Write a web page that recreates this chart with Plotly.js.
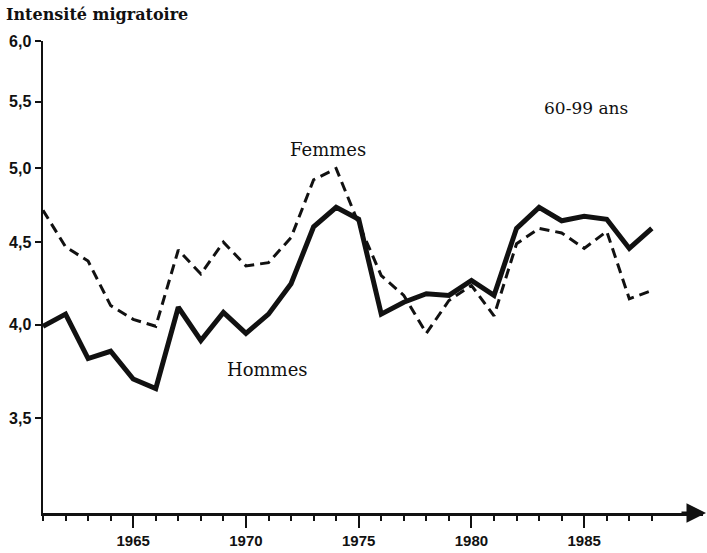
<!DOCTYPE html>
<html>
<head>
<meta charset="utf-8">
<script src="https://cdn.plot.ly/plotly-3.0.1.min.js"></script>
<style>html,body{margin:0;padding:0;background:#fff;}#chart{width:707px;height:553px;}</style>
</head>
<body>
<div id="chart"></div>
<script>
// Data
const years = [1961,1962,1963,1964,1965,1966,1967,1968,1969,1970,1971,1972,1973,1974,
               1975,1976,1977,1978,1979,1980,1981,1982,1983,1984,1985,1986,1987,1988];
const hommes = [3.99,4.06,3.81,3.85,3.70,3.65,4.10,3.91,4.07,3.95,4.06,4.24,4.60,4.73,
                4.65,4.06,4.13,4.18,4.17,4.26,4.17,4.59,4.73,4.64,4.67,4.65,4.46,4.59];
const femmes = [4.71,4.47,4.38,4.11,4.03,3.99,4.45,4.30,4.50,4.35,4.37,4.53,4.92,5.00,
                4.62,4.29,4.17,3.95,4.14,4.23,4.05,4.49,4.59,4.56,4.46,4.57,4.15,4.20];
const yTickVals = [3.5,4.0,4.5,5.0,5.5,6.0];
const yTickText = ['3,5','4,0','4,5','5,0','5,5','6,0'];
const xTickVals = [1965,1970,1975,1980,1985];
const xTickText = ['1965','1970','1975','1980','1985'];
const minorYears = years;

const W = 707, H = 553;
const L = 43, R = 4, T = 41.4, B = 40;
const pw = W - L - R, ph = H - T - B;
const px = x => (x - L) / pw;
const py = y => (H - B - y) / ph;

const serif = 'DejaVu Serif, serif';
const sans = 'Liberation Sans, Arial, sans-serif';

const traces = [
  {x: years, y: femmes, type: 'scatter', mode: 'lines', name: 'Femmes',
   line: {color: '#111', width: 3, dash: '10px,6px'}},
  {x: years, y: hommes, type: 'scatter', mode: 'lines', name: 'Hommes',
   line: {color: '#111', width: 5}}
];

const layout = {
  width: W, height: H,
  margin: {l: L, r: R, t: T, b: B, pad: 0},
  paper_bgcolor: '#fff', plot_bgcolor: '#fff',
  showlegend: false,
  xaxis: {
    range: [1961, 1961 + pw / 22.55],
    showgrid: false, zeroline: false,
    showline: true, linecolor: '#111', linewidth: 2.5,
    tickmode: 'array', tickvals: xTickVals, ticktext: xTickText,
    ticks: 'outside', ticklen: 12, tickwidth: 2, tickcolor: '#111',
    tickfont: {family: sans, size: 15, color: '#111', weight: 'bold'},
    minor: {tickmode: 'array', tickvals: minorYears, ticks: 'outside', ticklen: 5, tickwidth: 2, tickcolor: '#111', showgrid: false}
  },
  yaxis: {
    type: 'log',
    range: [Math.log10(3.055), Math.log10(6.0)],
    showgrid: false, zeroline: false,
    showline: true, linecolor: '#111', linewidth: 2.5,
    tickmode: 'array', tickvals: yTickVals, ticktext: yTickText,
    ticks: 'outside', ticklen: 6, tickwidth: 2, tickcolor: '#111',
    tickfont: {family: sans, size: 16, color: '#111', weight: 'bold'}
  },
  annotations: [
    {xref: 'paper', yref: 'paper', x: px(4), y: py(15), xanchor: 'left', yanchor: 'middle',
     text: 'Intensité migratoire', showarrow: false, font: {family: serif, size: 16, color: '#111', weight: 'bold'}},
    {xref: 'paper', yref: 'paper', x: px(328), y: py(150), xanchor: 'center', yanchor: 'middle',
     text: 'Femmes', showarrow: false, font: {family: serif, size: 18, color: '#111'}},
    {xref: 'paper', yref: 'paper', x: px(267), y: py(370), xanchor: 'center', yanchor: 'middle',
     text: 'Hommes', showarrow: false, font: {family: serif, size: 18, color: '#111'}},
    {xref: 'paper', yref: 'paper', x: px(586), y: py(108), xanchor: 'center', yanchor: 'middle',
     text: '60-99 ans', showarrow: false, font: {family: serif, size: 17, color: '#111'}},
    {xref: 'paper', yref: 'paper', x: px(706), y: 0, ax: -26, ay: 0, axref: 'pixel', ayref: 'pixel',
     text: '', showarrow: true, arrowhead: 2, arrowsize: 1.3, arrowwidth: 3, arrowcolor: '#111'}
  ]
};

Plotly.newPlot('chart', traces, layout, {staticPlot: true, displayModeBar: false});
</script>
</body>
</html>
